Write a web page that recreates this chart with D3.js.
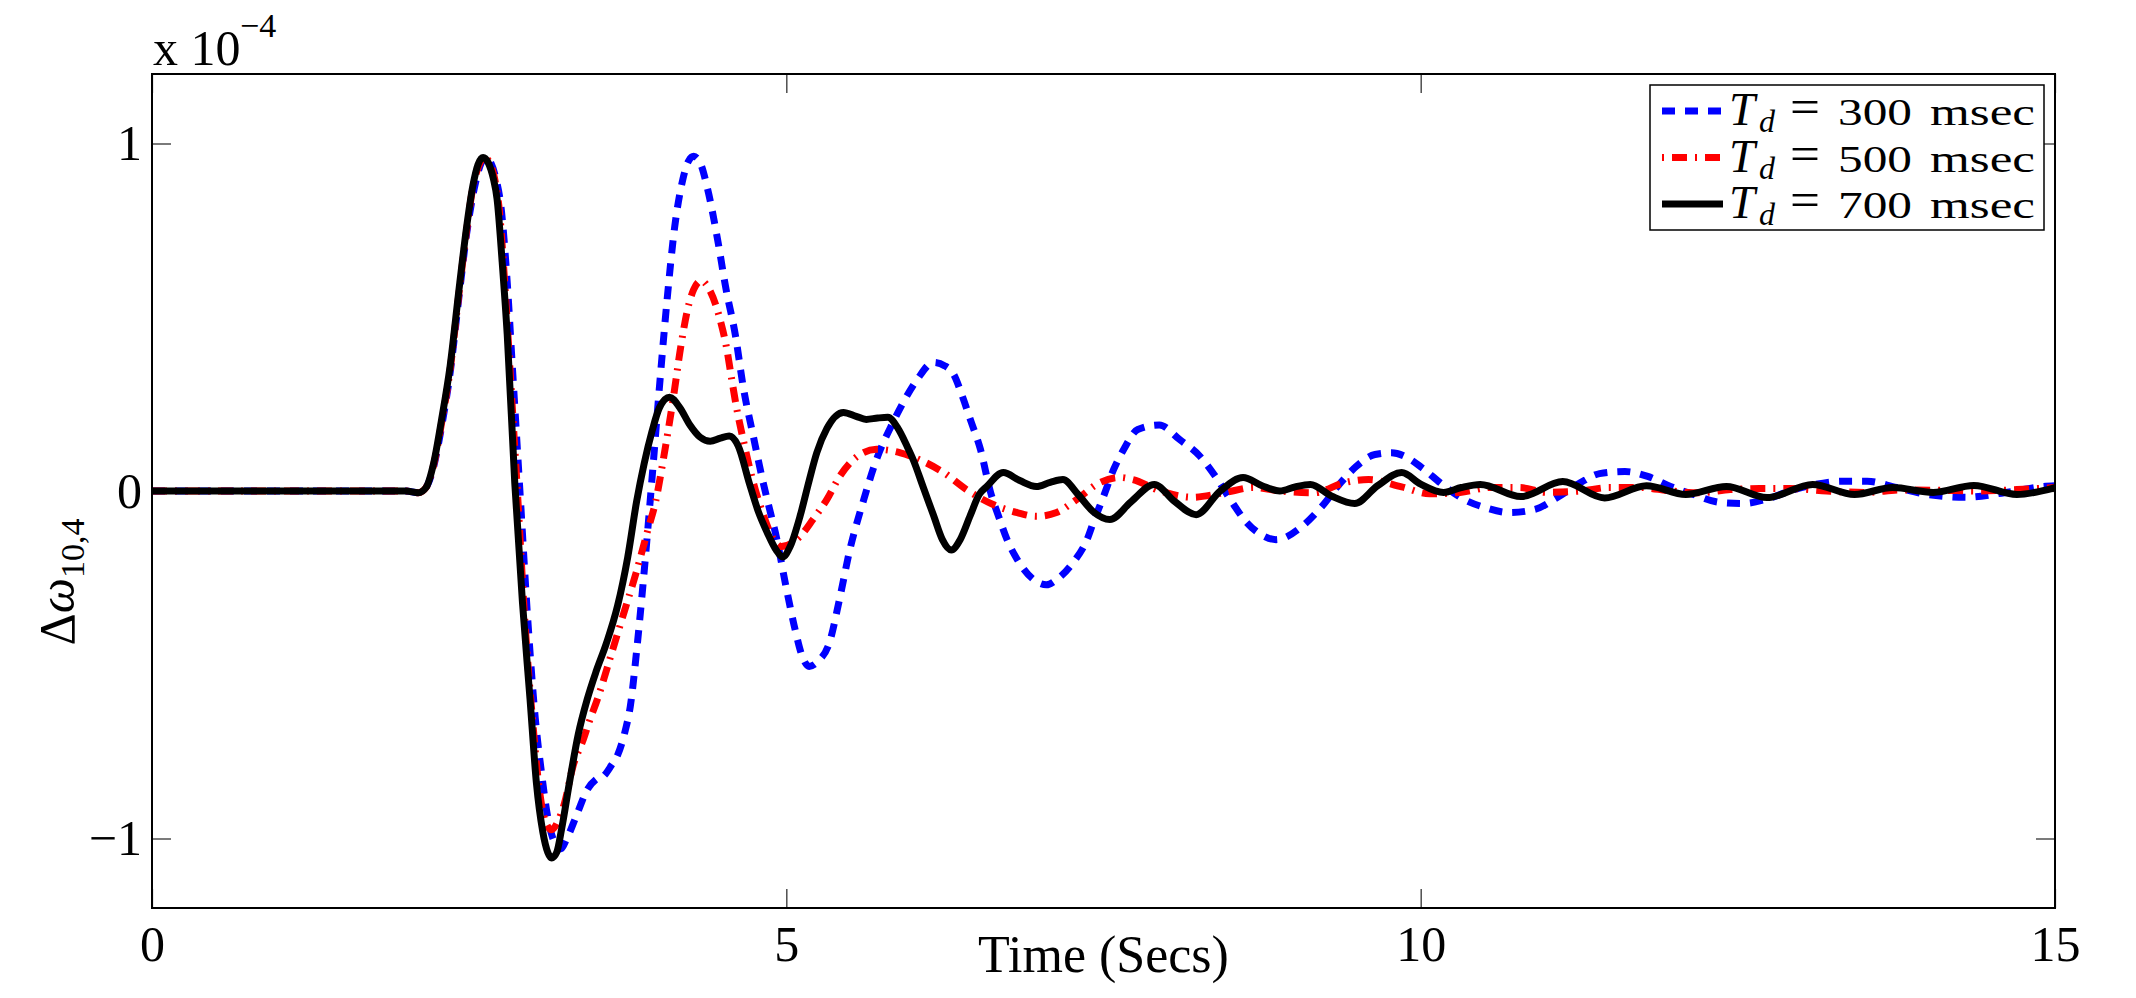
<!DOCTYPE html>
<html lang="en">
<head>
<meta charset="UTF-8">
<title>Frequency deviation</title>
<style>
  body { margin: 0; background: #fff; }
  svg text { font-family: "Liberation Serif", "DejaVu Serif", serif; fill: #000; }
</style>
</head>
<body>
<script src="https://d3js.org/d3.v7.min.js"></script>
<div id="chart"></div>
<script>
// values in units of 1e-4
var xTicks = [0, 5, 10, 15];
var yTicks = [-1, 0, 1];

// Td = 300 msec (blue, dashed)
var tBlue = [0, 1, 2, 2.1, 2.16, 2.22, 2.28, 2.35, 2.42, 2.48, 2.54, 2.59, 2.63, 2.67, 2.71, 2.75, 2.8, 2.84, 2.9, 2.96, 3.02, 3.07, 3.12, 3.16, 3.22, 3.27, 3.35, 3.43, 3.5, 3.56, 3.62, 3.67, 3.73, 3.77, 3.82, 3.87, 3.94, 4.0, 4.06, 4.12, 4.18, 4.23, 4.27, 4.32, 4.38, 4.46, 4.52, 4.6, 4.66, 4.74, 4.82, 4.88, 4.92, 5.0, 5.07, 5.12, 5.18, 5.25, 5.34, 5.42, 5.5, 5.61, 5.71, 5.84, 5.92, 6.03, 6.16, 6.25, 6.32, 6.39, 6.45, 6.53, 6.61, 6.68, 6.74, 6.82, 6.95, 7.05, 7.13, 7.26, 7.37, 7.42, 7.5, 7.58, 7.66, 7.77, 7.94, 8.1, 8.26, 8.38, 8.5, 8.62, 8.74, 8.86, 9.07, 9.22, 9.37, 9.49, 9.64, 9.77, 9.9, 10.01, 10.17, 10.34, 10.51, 10.7, 10.9, 11.07, 11.26, 11.41, 11.61, 11.79, 11.97, 12.15, 12.36, 12.54, 12.74, 12.91, 13.1, 13.32, 13.52, 13.75, 14.0, 14.3, 14.6, 14.91, 15];
var vBlue = [0, 0, 0, -0.005, 0.01, 0.07, 0.18, 0.34, 0.56, 0.74, 0.87, 0.94, 0.96, 0.945, 0.9, 0.82, 0.6, 0.36, 0, -0.36, -0.65, -0.81, -0.94, -1.0, -1.03, -1.0, -0.93, -0.86, -0.83, -0.82, -0.79, -0.76, -0.69, -0.62, -0.46, -0.27, 0.03, 0.3, 0.55, 0.76, 0.89, 0.95, 0.963, 0.945, 0.868, 0.72, 0.59, 0.445, 0.3, 0.157, 0.02, -0.07, -0.13, -0.28, -0.4, -0.47, -0.505, -0.49, -0.436, -0.31, -0.17, -0.025, 0.09, 0.197, 0.254, 0.32, 0.37, 0.36, 0.335, 0.27, 0.206, 0.12, -0.004, -0.08, -0.14, -0.197, -0.255, -0.27, -0.255, -0.206, -0.14, -0.09, -0.016, 0.062, 0.12, 0.177, 0.19, 0.148, 0.1, 0.043, -0.025, -0.087, -0.125, -0.14, -0.1, -0.045, 0.024, 0.07, 0.105, 0.11, 0.095, 0.067, 0.019, -0.024, -0.048, -0.062, -0.053, -0.02, 0.024, 0.05, 0.056, 0.042, 0.013, -0.01, -0.033, -0.036, -0.022, 0, 0.018, 0.028, 0.028, 0.01, -0.01, -0.018, -0.005, 0.013, 0.015];

// Td = 500 msec (red, dash-dot)
var tRed = [0, 1, 2, 2.1, 2.16, 2.22, 2.28, 2.35, 2.42, 2.48, 2.53, 2.58, 2.62, 2.66, 2.7, 2.74, 2.78, 2.83, 2.88, 2.94, 3.0, 3.05, 3.1, 3.15, 3.2, 3.25, 3.32, 3.4, 3.45, 3.51, 3.62, 3.72, 3.82, 3.91, 3.97, 4.03, 4.11, 4.17, 4.22, 4.27, 4.33, 4.4, 4.48, 4.53, 4.57, 4.61, 4.66, 4.74, 4.82, 4.9, 4.96, 5.11, 5.21, 5.32, 5.42, 5.56, 5.71, 5.9, 6.05, 6.24, 6.42, 6.63, 6.82, 6.97, 7.13, 7.29, 7.47, 7.63, 7.73, 7.95, 8.2, 8.45, 8.68, 8.89, 9.16, 9.4, 9.59, 9.85, 10.07, 10.31, 10.55, 10.78, 10.99, 11.26, 11.49, 11.73, 11.97, 12.2, 12.44, 12.67, 12.91, 13.2, 13.5, 13.8, 14.1, 14.4, 14.7, 15];
var vRed = [0, 0, 0, -0.005, 0.01, 0.075, 0.19, 0.35, 0.57, 0.75, 0.875, 0.94, 0.96, 0.945, 0.9, 0.8, 0.6, 0.3, 0, -0.38, -0.66, -0.85, -0.95, -0.975, -0.95, -0.9, -0.79, -0.715, -0.66, -0.6, -0.47, -0.35, -0.23, -0.11, -0.03, 0.09, 0.27, 0.42, 0.52, 0.58, 0.605, 0.575, 0.49, 0.41, 0.32, 0.235, 0.148, 0.024, -0.07, -0.14, -0.16, -0.13, -0.082, -0.024, 0.042, 0.1, 0.12, 0.11, 0.09, 0.053, 0.004, -0.039, -0.062, -0.073, -0.062, -0.024, 0.024, 0.039, 0.033, 0, -0.018, -0.005, 0.01, 0, -0.005, 0.024, 0.033, 0.012, -0.008, -0.004, 0.01, 0.01, -0.004, 0, 0.01, 0.01, 0, -0.005, 0.004, 0.007, 0.007, 0, -0.004, 0.003, 0.002, 0, 0.004, 0.01];

// Td = 700 msec (black, solid)
var tBlack = [0, 1, 2, 2.1, 2.16, 2.22, 2.28, 2.35, 2.42, 2.48, 2.53, 2.57, 2.61, 2.65, 2.69, 2.72, 2.76, 2.8, 2.86, 2.92, 2.98, 3.03, 3.08, 3.12, 3.15, 3.19, 3.23, 3.29, 3.36, 3.43, 3.5, 3.58, 3.67, 3.75, 3.82, 3.88, 3.94, 4.0, 4.08, 4.16, 4.24, 4.32, 4.4, 4.48, 4.55, 4.62, 4.71, 4.78, 4.85, 4.92, 4.97, 5.03, 5.11, 5.18, 5.24, 5.32, 5.45, 5.55, 5.63, 5.72, 5.8, 5.88, 5.95, 6.0, 6.08, 6.16, 6.23, 6.3, 6.37, 6.45, 6.52, 6.58, 6.71, 6.84, 6.97, 7.08, 7.18, 7.3, 7.42, 7.55, 7.72, 7.9, 8.06, 8.23, 8.42, 8.6, 8.75, 8.89, 9.01, 9.13, 9.3, 9.48, 9.66, 9.85, 10.0, 10.18, 10.32, 10.47, 10.79, 11.12, 11.45, 11.78, 12.09, 12.41, 12.73, 13.09, 13.42, 13.72, 14.04, 14.36, 14.7, 15];
var vBlack = [0, 0, 0, -0.005, 0.01, 0.08, 0.2, 0.36, 0.58, 0.76, 0.88, 0.94, 0.96, 0.945, 0.9, 0.84, 0.66, 0.45, 0.02, -0.32, -0.6, -0.84, -0.98, -1.04, -1.056, -1.04, -0.97, -0.84, -0.7, -0.6, -0.52, -0.44, -0.33, -0.19, -0.03, 0.08, 0.17, 0.24, 0.27, 0.24, 0.19, 0.155, 0.143, 0.152, 0.158, 0.13, 0.02, -0.06, -0.12, -0.17, -0.19, -0.16, -0.07, 0.03, 0.11, 0.18, 0.226, 0.215, 0.206, 0.21, 0.212, 0.18, 0.13, 0.09, 0.01, -0.07, -0.14, -0.17, -0.14, -0.07, -0.01, 0.013, 0.053, 0.03, 0.013, 0.025, 0.033, -0.01, -0.06, -0.082, -0.03, 0.019, -0.03, -0.068, 0, 0.039, 0.015, 0, 0.012, 0.019, -0.015, -0.036, 0.015, 0.053, 0.02, -0.004, 0.01, 0.019, -0.016, 0.027, -0.02, 0.015, -0.01, 0.013, -0.019, 0.019, -0.01, 0.01, -0.004, 0.016, -0.01, 0.01];

var seriesNames = ["300", "500", "700"];

var W = 2136, H = 998;
var mLeft = 152, mRight = 2055, mTop = 74, mBottom = 908;

var svg = d3.select("#chart").append("svg")
    .attr("width", W)
    .attr("height", H)
    .style("display", "block");

svg.append("rect").attr("width", W).attr("height", H).attr("fill", "#fff");

var x = d3.scaleLinear().domain([0, 15]).range([mLeft, mRight]);
var y = d3.scaleLinear().domain([-1.2, 1.2]).range([mBottom, mTop]);

// axes, ticks pointing inward on all four sides
function styleAxis(g) {
  g.select(".domain").remove();
  g.selectAll(".tick line").attr("stroke", "#222").attr("stroke-width", 1.2);
  g.selectAll("text").attr("fill", "#000")
    .style("font-family", "'Liberation Serif', 'DejaVu Serif', serif")
    .style("font-size", "50px");
}

svg.append("g")
    .attr("transform", "translate(0," + mBottom + ")")
    .call(d3.axisBottom(x).tickValues(xTicks).tickSizeInner(-19).tickSizeOuter(0).tickPadding(17).tickFormat(d3.format("d")))
    .call(styleAxis);
svg.append("g")
    .attr("transform", "translate(0," + mTop + ")")
    .call(d3.axisTop(x).tickValues(xTicks).tickSizeInner(-19).tickSizeOuter(0).tickFormat(""))
    .call(styleAxis);
svg.append("g")
    .attr("transform", "translate(" + mLeft + ",0)")
    .call(d3.axisLeft(y).tickValues(yTicks).tickSizeInner(-19).tickSizeOuter(0).tickPadding(10).tickFormat(d3.format("d")))
    .call(styleAxis);
svg.append("g")
    .attr("transform", "translate(" + mRight + ",0)")
    .call(d3.axisRight(y).tickValues(yTicks).tickSizeInner(-19).tickSizeOuter(0).tickFormat(""))
    .call(styleAxis);

// lines
svg.append("clipPath").attr("id", "plotclip")
  .append("rect").attr("x", mLeft).attr("y", mTop).attr("width", mRight - mLeft).attr("height", mBottom - mTop);

var line = d3.line()
    .x(function(d) { return x(d[0]); })
    .y(function(d) { return y(d[1]); })
    .curve(d3.curveMonotoneX);

var plot = svg.append("g").attr("clip-path", "url(#plotclip)");

plot.append("path")
    .attr("d", line(d3.zip(tBlue, vBlue)))
    .attr("fill", "none")
    .attr("stroke", "#0000ff")
    .attr("stroke-width", 7)
    .attr("stroke-dasharray", "13 10");

plot.append("path")
    .attr("d", line(d3.zip(tRed, vRed)))
    .attr("fill", "none")
    .attr("stroke", "#ff0000")
    .attr("stroke-width", 7)
    .attr("stroke-dasharray", "15 8 2 8");

plot.append("path")
    .attr("d", line(d3.zip(tBlack, vBlack)))
    .attr("fill", "none")
    .attr("stroke", "#000")
    .attr("stroke-width", 7)
    .attr("stroke-linejoin", "round");

// box
svg.append("rect")
    .attr("x", mLeft).attr("y", mTop)
    .attr("width", mRight - mLeft).attr("height", mBottom - mTop)
    .attr("fill", "none").attr("stroke", "#000").attr("stroke-width", 2);

// exponent label
svg.append("text").attr("x", 153).attr("y", 65).style("font-size", "50px").text("x 10");
svg.append("text").attr("x", 240).attr("y", 37).style("font-size", "34px").text("\u22124");

// x label
svg.append("text")
    .attr("x", (mLeft + mRight) / 2).attr("y", 972)
    .attr("text-anchor", "middle")
    .style("font-size", "52px")
    .text("Time (Secs)");

// y label
var yl = svg.append("text")
    .attr("transform", "translate(74,582) rotate(-90)")
    .attr("text-anchor", "middle")
    .style("font-size", "50px");
yl.append("tspan").text("\u0394");
yl.append("tspan").style("font-style", "italic").text("\u03c9");
yl.append("tspan").attr("dy", 10).style("font-size", "34px").text("10,4");

// legend
var legend = svg.append("g");
legend.append("rect")
    .attr("x", 1650).attr("y", 85).attr("width", 394).attr("height", 145)
    .attr("fill", "#fff").attr("stroke", "#000").attr("stroke-width", 1.5);

var legendStyles = [
  {color: "#0000ff", dash: "13 10"},
  {color: "#ff0000", dash: "2 8 15 8"},
  {color: "#000", dash: null}
];

seriesNames.forEach(function(name, i) {
  var cy = 111 + i * 46.5;
  var base = 125 + i * 46.5;
  var l = legend.append("line")
      .attr("x1", 1662).attr("x2", 1723)
      .attr("y1", cy).attr("y2", cy)
      .attr("stroke", legendStyles[i].color)
      .attr("stroke-width", 7);
  if (legendStyles[i].dash) l.attr("stroke-dasharray", legendStyles[i].dash);

  legend.append("text").attr("x", 1729).attr("y", base)
      .style("font-size", "46px").style("font-style", "italic")
      .attr("textLength", 26).attr("lengthAdjust", "spacingAndGlyphs").text("T");
  legend.append("text").attr("x", 1759).attr("y", base + 7)
      .style("font-size", "32px").style("font-style", "italic")
      .text("d");
  legend.append("text").attr("x", 1790).attr("y", base - 2)
      .style("font-size", "48px")
      .attr("textLength", 30).attr("lengthAdjust", "spacingAndGlyphs").text("=");
  legend.append("text").attr("x", 1838).attr("y", base)
      .style("font-size", "38px")
      .attr("textLength", 74).attr("lengthAdjust", "spacingAndGlyphs").text(name);
  legend.append("text").attr("x", 1930).attr("y", base)
      .style("font-size", "38px")
      .attr("textLength", 105).attr("lengthAdjust", "spacingAndGlyphs").text("msec");
});
</script>
</body>
</html>
